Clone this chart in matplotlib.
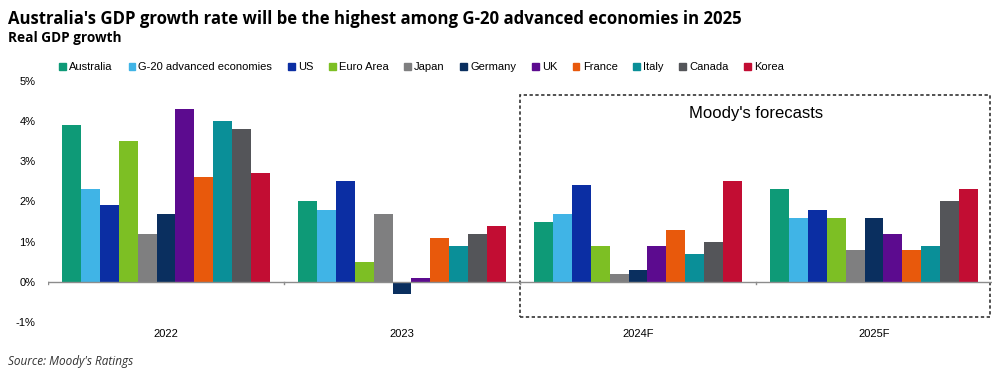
import numpy as np
import matplotlib
matplotlib.use("Agg")
from matplotlib import pyplot as plt
from matplotlib.patches import Patch, Rectangle

# data
years = ["2022", "2023", "2024F", "2025F"]
countries = ["Australia", "G-20 advanced economies", "US", "Euro Area", "Japan",
             "Germany", "UK", "France", "Italy", "Canada", "Korea"]
australia = [3.9, 2.0, 1.5, 2.3]
g20 = [2.3, 1.8, 1.7, 1.6]
us = [1.9, 2.5, 2.4, 1.8]
euro_area = [3.5, 0.5, 0.9, 1.6]
japan = [1.2, 1.7, 0.2, 0.8]
germany = [1.7, -0.3, 0.3, 1.6]
uk = [4.3, 0.1, 0.9, 1.2]
france = [2.6, 1.1, 1.3, 0.8]
italy = [4.0, 0.9, 0.7, 0.9]
canada = [3.8, 1.2, 1.0, 2.0]
korea = [2.7, 1.4, 2.5, 2.3]
series = [australia, g20, us, euro_area, japan, germany, uk, france, italy, canada, korea]
colors = ["#0e9a77", "#40b4e6", "#0b2ea3", "#7dbf24", "#7f7f80", "#0a2f5f",
          "#5c0b8f", "#e8590c", "#0a8f98", "#545559", "#c20d33"]
yticks = [-1, 0, 1, 2, 3, 4, 5]

fig = plt.figure(figsize=(10, 3.72), dpi=100)
ax = fig.add_axes([0.048, 0.1344, 0.944, 0.648])

x = np.arange(len(years))
w = 0.08
for i, (vals, c) in enumerate(zip(series, colors)):
    ax.bar(x + (i - 5) * w, vals, w, color=c, label=countries[i])

ax.set_xlim(-0.5, 3.5)
ax.set_ylim(-1, 5)
ax.set_yticks(yticks)
ax.set_yticklabels([f"{t}%" for t in yticks], fontsize=8, family="Liberation Sans")
ax.tick_params(axis="y", length=0, pad=9)
ax.set_xticks([])
for s in ax.spines.values():
    s.set_visible(False)
ax.axhline(0, color="#8c8c8c", lw=1)
for b in [-0.5, 0.5, 1.5, 2.5]:
    ax.plot([b, b], [0, -0.06], color="#8c8c8c", lw=1)
for xi, yr in zip(x, years):
    ax.text(xi, -1.3, yr, ha="center", va="center", fontsize=8, family="Liberation Sans")

# forecast box
ax.add_patch(Rectangle((1.5, -0.88), 1.99, 5.53, fill=False, ls=(0, (2, 1.5)),
                       lw=1.2, ec="#333333", clip_on=False))
ax.text(2.5, 4.2, "Moody's forecasts", ha="center", va="center", fontsize=12,
        family="Liberation Sans")

handles = [Patch(color=c) for c in colors]
fig.legend(handles, countries, ncol=11, loc="center left", bbox_to_anchor=(0.055, 0.82),
           frameon=False, prop={"family": "Liberation Sans", "size": 8},
           handlelength=0.6, handleheight=0.6, handletextpad=0.3, columnspacing=1.4,
           borderaxespad=0)

fig.text(0.008, 0.95, "Australia's GDP growth rate will be the highest among G-20 advanced economies in 2025",
         fontsize=12.1, fontweight="bold", family="Open Sans", va="center")
fig.text(0.008, 0.897, "Real GDP growth", fontsize=9.8, fontweight="bold", family="Open Sans", va="center")
fig.text(0.008, 0.027, "Source: Moody's Ratings", fontsize=8.5, style="italic",
         family="Open Sans", color="#333333", va="center")

fig.savefig("out.png", dpi=100)
